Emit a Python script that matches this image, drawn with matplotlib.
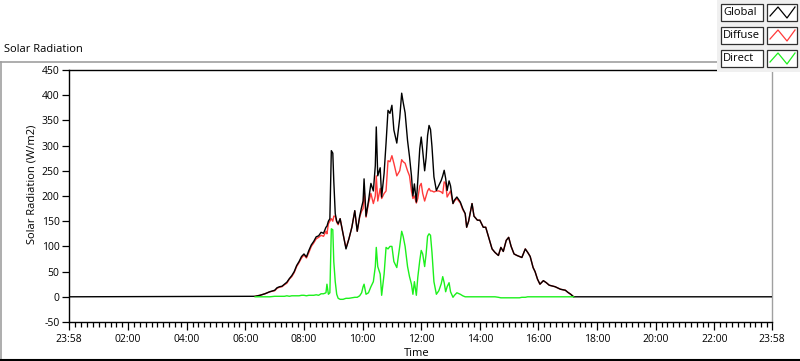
import numpy as np
import matplotlib
matplotlib.use('Agg')
import matplotlib.pyplot as plt
from matplotlib.patches import Rectangle

plt.rcParams['font.family'] = ['Open Sans', 'DejaVu Sans']

# readings (W/m2), daylight part of the record
times = ['06:20', '06:30', '06:40', '06:50', '07:00', '07:05', '07:10', '07:15', '07:20', '07:25',
         '07:30', '07:35', '07:40', '07:45', '07:50', '07:55', '08:00', '08:05', '08:10', '08:15',
         '08:20', '08:25', '08:30', '08:35', '08:40', '08:45', '08:47', '08:50', '08:53', '08:56',
         '08:59', '09:01', '09:04', '09:07', '09:10', '09:14', '09:20', '09:26', '09:32', '09:38',
         '09:44', '09:49', '09:54', '09:58', '10:01', '10:03', '10:07', '10:12', '10:17', '10:22',
         '10:26', '10:28', '10:31', '10:36', '10:39', '10:44', '10:48', '10:52', '10:56', '11:00',
         '11:04', '11:10', '11:16', '11:20', '11:23', '11:27', '11:32', '11:36', '11:40', '11:43',
         '11:46', '11:50', '11:53', '11:57', '12:00', '12:03', '12:07', '12:10', '12:13', '12:16',
         '12:19', '12:22', '12:26', '12:31', '12:36', '12:41', '12:44', '12:47', '12:50', '12:53',
         '12:57', '13:00', '13:05', '13:08', '13:13', '13:20', '13:25', '13:30', '13:33', '13:37',
         '13:44', '13:48', '13:55', '14:00', '14:07', '14:12', '14:18', '14:25', '14:31', '14:38',
         '14:43', '14:48', '14:54', '14:59', '15:04', '15:10', '15:16', '15:21', '15:26', '15:33',
         '15:38', '15:43', '15:49', '15:53', '15:58', '16:03', '16:10', '16:16', '16:22', '16:34',
         '16:45', '16:55', '17:00', '17:06', '17:12']

global_rad = [1, 3, 6, 10, 13, 18, 20, 21, 25, 29,
              36, 42, 50, 62, 70, 80, 85, 79, 92, 103,
              110, 119, 121, 128, 126, 138, 140, 150, 155, 290,
              285, 230, 165, 150, 145, 155, 125, 95, 115, 138,
              171, 130, 160, 178, 190, 234, 160, 190, 225, 210,
              260, 337, 240, 256, 198, 245, 305, 370, 364, 380,
              331, 305, 355, 404, 386, 365, 310, 278, 240, 200,
              224, 188, 231, 294, 317, 290, 250, 276, 320, 340,
              332, 298, 238, 211, 221, 231, 240, 251, 235, 211,
              230, 220, 185, 192, 198, 188, 175, 165, 138, 150,
              185, 160, 152, 152, 138, 138, 118, 95, 88, 82,
              98, 90, 112, 118, 100, 85, 82, 80, 78, 95,
              88, 80, 58, 50, 35, 25, 32, 28, 23, 20,
              15, 13, 9, 5, 0]

diffuse_rad = [1, 3, 6, 10, 12, 17, 19, 20, 24, 27,
               35, 40, 48, 60, 68, 77, 83, 77, 88, 100,
               107, 115, 118, 122, 120, 130, 125, 145, 150, 155,
               150, 160, 160, 148, 143, 155, 125, 97, 115, 138,
               170, 130, 158, 170, 175, 215, 158, 185, 205, 185,
               200, 240, 190, 215, 195, 205, 210, 270, 268, 280,
               265, 240, 250, 272, 268, 265, 250, 240, 210, 195,
               200, 186, 195, 220, 225, 205, 190, 200, 210, 215,
               210, 210, 208, 210, 210, 208, 205, 228, 225, 198,
               205, 210, 185, 190, 195, 186, 173, 165, 138, 150,
               185, 160, 152, 152, 138, 138, 118, 95, 88, 82,
               98, 90, 112, 118, 100, 85, 82, 80, 78, 95,
               88, 80, 58, 50, 35, 25, 32, 28, 23, 20,
               15, 13, 9, 5, 0]

direct_rad = [0, 0, 0, 0, 1, 1, 1, 1, 1, 2,
              1, 2, 2, 2, 2, 3, 3, 2, 3, 3,
              3, 4, 3, 6, 6, 8, 25, 5, 8, 135,
              133, 70, 30, 5, -3, -5, -5, -3, -3, -2,
              -1, -1, 2, 8, 20, 25, 5, 8, 20, 30,
              60, 98, 60, 45, 3, 45, 98, 95, 100, 100,
              70, 58, 100, 130, 120, 100, 60, 40, 25, 5,
              30, 3, 39, 72, 92, 85, 60, 85, 120, 125,
              122, 88, 30, 5, 12, 26, 40, 28, 10, 20,
              28, 10, -1, 3, 8, 5, 2, 0, 0, 0,
              0, 0, 0, 0, 0, 0, 0, 0, 0, -1,
              -2, -2, -2, -2, -2, -2, -2, -2, -1, -1,
              0, 0, 0, 0, 0, 0, 0, 0, 0, 0,
              0, 0, 0, 0, 0]

x_labels = ['23:58', '02:00', '04:00', '06:00', '08:00', '10:00', '12:00',
            '14:00', '16:00', '18:00', '20:00', '22:00', '23:58']
y_ticks = [-50, 0, 50, 100, 150, 200, 250, 300, 350, 400, 450]


def hours(s):
    h, m = s.split(':')
    return int(h) + int(m) / 60.0


t = np.array([hours(s) for s in times])
t_start = -2 / 60.0           # 23:58 of the day before
t_end = 23 + 58 / 60.0

fig = plt.figure(figsize=(8, 3.61), dpi=100)
ax = fig.add_axes([68.5 / 800, 1 - 322 / 361, (772 - 68.5) / 800, (322 - 70) / 361])

ax.plot(t, diffuse_rad, color='#ff3a3a', lw=1.0, zorder=2)
ax.plot(np.r_[t_start, t, t_end], np.r_[0, global_rad, 0], color='black', lw=1.0, zorder=3)
ax.plot(t, direct_rad, color='#1cf01c', lw=1.0, zorder=4)

ax.set_xlim(t_start, t_end)
ax.set_ylim(-50, 450)
ax.set_xticks([t_start] + list(range(2, 24, 2)) + [t_end])
ax.set_xticklabels(x_labels)
ax.set_xticks(np.arange(0.2, 23.9, 0.2), minor=True)
ax.set_yticks(y_ticks)
ax.set_yticklabels([str(v) for v in y_ticks])

ax.tick_params(axis='y', direction='out', length=5, width=0.9, pad=1.5, labelsize=7.5)
ax.tick_params(axis='x', which='major', direction='out', length=5.5, width=0.9, pad=3, labelsize=7.5)
ax.tick_params(axis='x', which='minor', direction='out', length=3.5, width=0.9)
for side in ['left', 'top', 'bottom']:
    ax.spines[side].set_color('black')
    ax.spines[side].set_linewidth(1.0)
ax.spines['right'].set_color('#a0a0a0')
ax.spines['right'].set_linewidth(1.0)

fig.text(4 / 800, 1 - 50 / 361, 'Solar Radiation', fontsize=8, ha='left', va='center')
fig.text(32 / 800, 1 - 184 / 361, 'Solar Radiation (W/m2)', fontsize=8, rotation=90,
         ha='center', va='center')
fig.text(417 / 800, 1 - 354 / 361, 'Time', fontsize=8, ha='center', va='center')

# overlay in pixel units for the frame and the LabVIEW-style legend
ov = fig.add_axes([0, 0, 1, 1])
ov.set_xlim(0, 800)
ov.set_ylim(361, 0)
ov.axis('off')
ov.patch.set_alpha(0)
ov.plot([0.5, 0.5], [61.5, 360], color='#a0a0a0', lw=1.2)
ov.plot([0, 717], [61.5, 61.5], color='#a0a0a0', lw=1.2)
ov.plot([0, 800], [360, 360], color='black', lw=1.5)

ov.add_patch(Rectangle((717, 0), 83, 72, fc='#f0f0f0', ec='none', zorder=5))
names = ['Global', 'Diffuse', 'Direct']
colors = ['black', '#ff3a3a', '#1cf01c']
for i, (name, c) in enumerate(zip(names, colors)):
    y0 = 4 + i * 23
    ov.add_patch(Rectangle((721, y0), 42, 17, fc='white', ec='#303030', lw=0.9, zorder=6))
    ov.add_patch(Rectangle((767, y0), 30, 17, fc='white', ec='#303030', lw=0.9, zorder=6))
    ov.text(723, y0 + 8.5, name, fontsize=8, ha='left', va='center', zorder=7)
    ov.plot([770, 778, 787, 795], [y0 + 12, y0 + 3, y0 + 14, y0 + 3], color=c, lw=0.9, zorder=7)

fig.savefig('out.png', dpi=100, facecolor='white')
